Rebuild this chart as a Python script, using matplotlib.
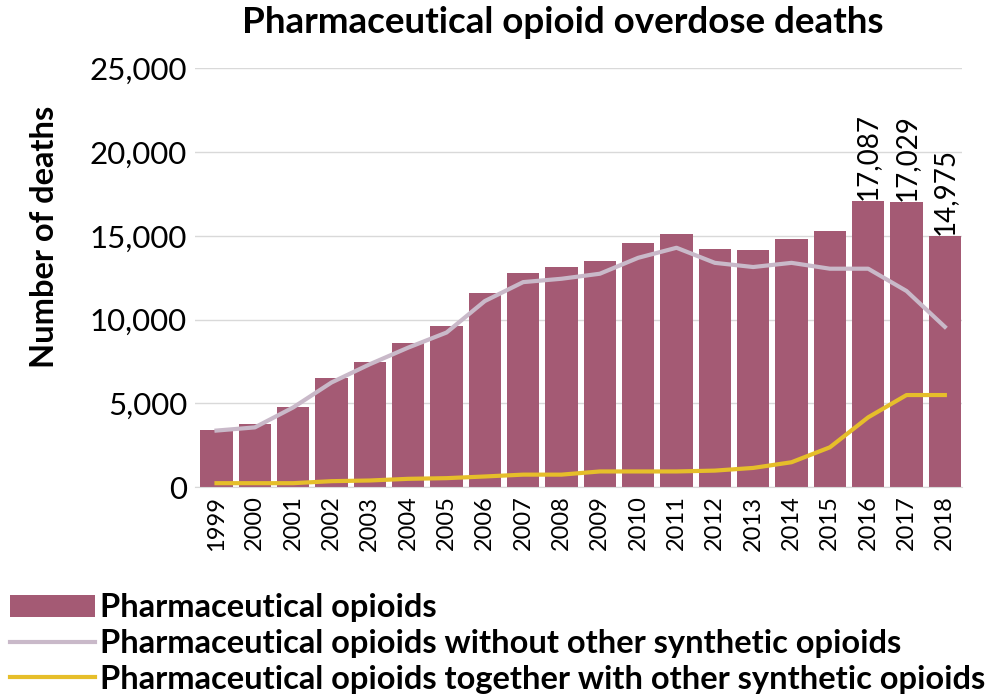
import matplotlib.pyplot as plt

plt.rcParams['font.family'] = ['Lato', 'DejaVu Sans']

# Data
years = [str(y) for y in range(1999, 2019)]
pharma_total = [3442, 3785, 4770, 6496, 7456, 8577, 9612, 11589, 12796, 13149,
                13523, 14583, 15140, 14240, 14145, 14838, 15281, 17087, 17029, 14975]
without_synth = [3380, 3570, 4760, 6250, 7340, 8330, 9230, 11110, 12240, 12440,
                 12740, 13690, 14290, 13390, 13140, 13390, 13040, 13040, 11710, 9570]
with_synth = [240, 240, 240, 360, 400, 500, 540, 640, 750, 750,
              940, 940, 940, 990, 1150, 1490, 2380, 4170, 5500, 5500]
labelled = {'2016': '17,087', '2017': '17,029', '2018': '14,975'}

fig = plt.figure(figsize=(9.97, 6.97), dpi=100)
ax = fig.add_axes([0.196, 0.301, 0.769, 0.601])

x = range(len(years))
ax.bar(x, pharma_total, width=0.84, color='#A45A74', zorder=2,
       label='Pharmaceutical opioids')
ax.plot(x, without_synth, color='#C9B9C9', lw=3, zorder=3,
        label='Pharmaceutical opioids without other synthetic opioids')
ax.plot(x, with_synth, color='#E6BE2A', lw=3, zorder=3,
        label='Pharmaceutical opioids together with other synthetic opioids')

# value labels on the last bars
for i, yr in enumerate(years):
    if yr in labelled:
        ax.text(i, pharma_total[i] + 60, labelled[yr], rotation=90,
                ha='center', va='bottom', fontsize=20)

ax.set_ylim(0, 25000)
ax.set_xlim(-0.55, len(years) - 0.55)
ax.set_yticks(range(0, 25001, 5000))
ax.set_yticklabels([f'{v:,}' for v in range(0, 25001, 5000)], fontsize=22.5)
ax.set_xticks(list(x))
ax.set_xticklabels(years, rotation=90, fontsize=17)
ax.tick_params(length=0, pad=6)
ax.grid(axis='y', color='#D9D9D9', lw=1, zorder=0)
for s in ['top', 'right', 'left']:
    ax.spines[s].set_visible(False)
ax.spines['bottom'].set_color('#D9D9D9')

ax.set_ylabel('Number of deaths', fontsize=23.5, fontweight='bold')
ax.yaxis.set_label_coords(-0.178, 0.597)
fig.text(0.564, 0.968, 'Pharmaceutical opioid overdose deaths', fontsize=26.5,
         fontweight='bold', ha='center', va='center')

handles, labels = ax.get_legend_handles_labels()
order = [2, 0, 1]
fig.legend([handles[i] for i in order], [labels[i] for i in order],
           loc='lower left', bbox_to_anchor=(0.01, 0.005), frameon=False,
           handlelength=2.6, handleheight=0.7, handletextpad=0.15,
           labelspacing=0.2, borderpad=0, borderaxespad=0,
           prop={'weight': 'bold', 'size': 23.5})

fig.savefig('out.png', dpi=100)
